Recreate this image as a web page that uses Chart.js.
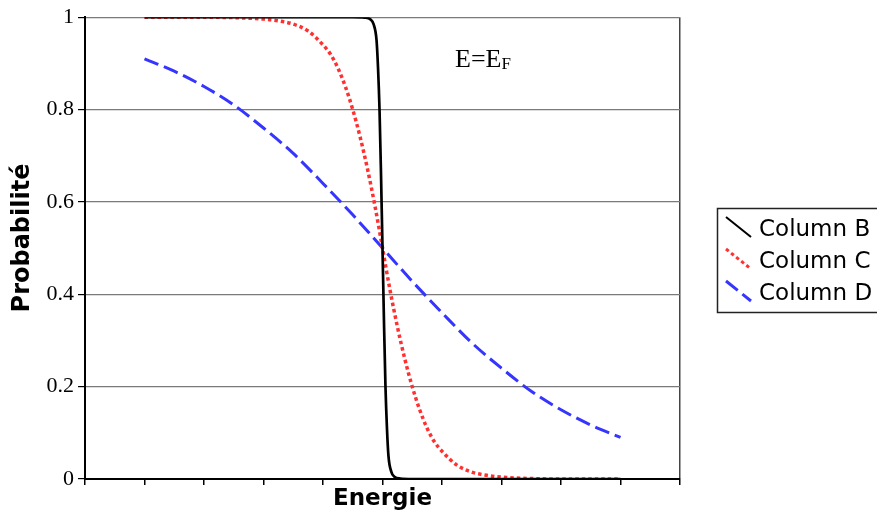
<!DOCTYPE html>
<html>
<head>
<meta charset="utf-8">
<script src="https://cdn.jsdelivr.net/npm/chart.js@4/dist/chart.umd.min.js"></script>
<style>
  html, body { margin: 0; padding: 0; background: #ffffff; }
  #wrap { width: 877px; height: 515px; }
</style>
</head>
<body>
<div id="wrap"><canvas id="chart" width="877" height="515"></canvas></div>
<script>
// Fermi-Dirac occupation probability around the Fermi level, three temperatures
const energyB = [-4, -3, -2, -1, -0.5, -0.3, -0.2, -0.15, -0.1, -0.075, -0.05, -0.025, 0, 0.025, 0.05, 0.075, 0.1, 0.15, 0.2, 0.3, 0.5, 1, 2, 3, 4];
const probB   = [1, 1, 1, 1, 1, 0.999, 0.995, 0.985, 0.95, 0.89, 0.8, 0.66, 0.5, 0.34, 0.2, 0.11, 0.05, 0.015, 0.005, 0.001, 0, 0, 0, 0, 0];

const energyC = [-4, -3.5, -3, -2.5, -2, -1.75, -1.5, -1.25, -1, -0.875, -0.75, -0.625, -0.5, -0.375, -0.25, -0.125, 0, 0.125, 0.25, 0.375, 0.5, 0.625, 0.75, 0.875, 1, 1.25, 1.5, 1.75, 2, 2.5, 3, 3.5, 4];
const probC   = [1, 1, 1, 0.999, 0.996, 0.992, 0.985, 0.97, 0.94, 0.92, 0.89, 0.85, 0.8, 0.74, 0.67, 0.59, 0.5, 0.41, 0.33, 0.26, 0.2, 0.15, 0.11, 0.08, 0.06, 0.03, 0.015, 0.008, 0.004, 0.001, 0, 0, 0];

const energyD = [-4, -3.5, -3, -2.5, -2, -1.5, -1, -0.5, 0, 0.5, 1, 1.5, 2, 2.5, 3, 3.5, 4];
const probD   = [0.91, 0.883, 0.85, 0.81, 0.76, 0.705, 0.64, 0.572, 0.5, 0.428, 0.36, 0.295, 0.24, 0.19, 0.15, 0.117, 0.09];

const seriesNames = ['Column B', 'Column C', 'Column D'];
const yTickLabels = ['0', '0.2', '0.4', '0.6', '0.8', '1'];
const xTitle = 'Energie';
const yTitle = 'Probabilité';
const levelMain = 'E=E';
const levelSub = 'F';

const toPoints = (xs, ys) => xs.map((x, i) => ({ x: x, y: ys[i] }));

// Legend box with slanted line samples, drawn beside the plot
const sideLegend = {
  id: 'sideLegend',
  afterDraw(chart) {
    const ctx = chart.ctx;
    ctx.save();
    ctx.strokeStyle = '#222';
    ctx.lineWidth = 1.5;
    ctx.strokeRect(717.5, 208.5, 180, 104);
    const rows = [227, 259, 291];
    chart.data.datasets.forEach((ds, i) => {
      const cy = rows[i];
      ctx.save();
      ctx.strokeStyle = ds.borderColor;
      ctx.lineWidth = i === 0 ? 2 : 3;
      ctx.setLineDash(ds.borderDash || []);
      ctx.beginPath();
      ctx.moveTo(726, cy - 10);
      ctx.lineTo(751, cy + 10);
      ctx.stroke();
      ctx.restore();
      ctx.fillStyle = '#000';
      ctx.font = '23px "DejaVu Sans"';
      ctx.textAlign = 'left';
      ctx.textBaseline = 'alphabetic';
      ctx.fillText(ds.label, 759, cy + 8.5);
    });
    ctx.restore();
  }
};

// Vertical axis title and the "E=E_F" note
const annotations = {
  id: 'annotations',
  afterDraw(chart) {
    const ctx = chart.ctx;
    ctx.save();
    ctx.fillStyle = '#000';
    ctx.translate(23, 238);
    ctx.rotate(-Math.PI / 2);
    ctx.font = 'bold 24px "DejaVu Sans"';
    ctx.textAlign = 'center';
    ctx.textBaseline = 'middle';
    ctx.fillText(yTitle, 0, 0);
    ctx.restore();

    ctx.save();
    ctx.fillStyle = '#000';
    ctx.textBaseline = 'alphabetic';
    ctx.textAlign = 'left';
    ctx.font = '26px "Liberation Serif"';
    ctx.fillText(levelMain, 455, 67);
    const w = ctx.measureText(levelMain).width;
    ctx.font = '17px "Liberation Serif"';
    ctx.fillText(levelSub, 455 + w, 68.5);
    ctx.restore();
  }
};

new Chart(document.getElementById('chart'), {
  type: 'line',
  data: {
    datasets: [
      {
        label: seriesNames[0],
        data: toPoints(energyB, probB),
        borderColor: '#000000',
        borderWidth: 2.7,
        pointRadius: 0,
        cubicInterpolationMode: 'monotone',
        fill: false
      },
      {
        label: seriesNames[1],
        data: toPoints(energyC, probC),
        borderColor: '#ff3030',
        borderWidth: 3.5,
        borderDash: [3.5, 3],
        pointRadius: 0,
        cubicInterpolationMode: 'monotone',
        fill: false
      },
      {
        label: seriesNames[2],
        data: toPoints(energyD, probD),
        borderColor: '#3535ff',
        borderWidth: 3,
        borderDash: [15, 6],
        pointRadius: 0,
        cubicInterpolationMode: 'monotone',
        fill: false
      }
    ]
  },
  options: {
    responsive: false,
    animation: false,
    devicePixelRatio: 1,
    layout: { padding: { left: 0, top: 15, right: 197, bottom: 0 } },
    plugins: {
      legend: { display: false },
      tooltip: { enabled: false }
    },
    scales: {
      x: {
        type: 'linear',
        min: -5,
        max: 5,
        afterFit: (s) => { s.height = 36; },
        ticks: { stepSize: 1, display: false },
        grid: {
          drawOnChartArea: true,
          drawTicks: true,
          tickLength: 6,
          tickColor: '#000',
          tickWidth: 1.5,
          color: (c) => (c.tick && c.tick.value === 5) ? '#444' : 'rgba(0,0,0,0)',
          lineWidth: 1.5
        },
        border: { display: true, color: '#000', width: 2 },
        title: {
          display: true,
          text: xTitle,
          color: '#000',
          font: { family: 'DejaVu Sans', size: 23, weight: 'bold' },
          padding: { top: 0, bottom: 2 }
        }
      },
      y: {
        min: 0,
        max: 1,
        afterFit: (s) => { s.width = 85; },
        ticks: {
          stepSize: 0.2,
          color: '#000',
          padding: 4,
          font: { family: 'Liberation Serif', size: 22 },
          callback: (v, i) => yTickLabels[i]
        },
        grid: {
          color: '#7a7a7a',
          lineWidth: 1.2,
          tickColor: '#000',
          tickLength: 7
        },
        border: { display: true, color: '#000', width: 2 },
        title: { display: false, text: yTitle }
      }
    }
  },
  plugins: [sideLegend, annotations]
});
</script>
</body>
</html>
